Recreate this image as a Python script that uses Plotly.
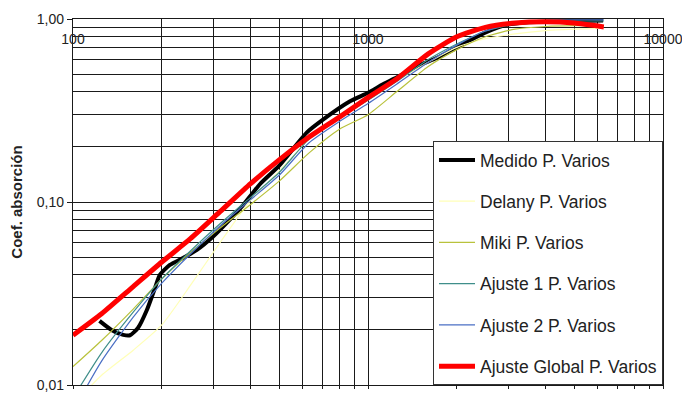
import plotly.graph_objects as go
import numpy as np

# third-octave frequencies for the model curves
freq = [100, 125, 160, 200, 250, 315, 400, 500, 630, 800, 1000, 1250, 1600,
        2000, 2500, 3150, 4000, 5000, 6300]

# measured curve (finer sampling)
freq_med = [123, 135, 148, 156, 166, 178, 190, 197, 213, 236, 263, 298, 340,
            377, 430, 500, 621, 700, 869, 1000, 1124, 1283, 1500, 1700, 1941,
            2200, 2528, 2958, 3500, 4240, 5000, 6266]
medido = [0.0224, 0.0200, 0.0188, 0.0187, 0.0205, 0.0257, 0.0342, 0.040,
          0.0453, 0.0494, 0.0547, 0.0645, 0.080, 0.096, 0.125, 0.158, 0.240,
          0.28, 0.355, 0.395, 0.44, 0.49, 0.56, 0.61, 0.68, 0.76, 0.85, 0.93,
          0.96, 0.97, 0.975, 0.98]

delany = [0.0078, 0.0113, 0.0155, 0.0213, 0.035, 0.060, 0.102, 0.148, 0.22,
          0.30, 0.37, 0.46, 0.58, 0.70, 0.78, 0.83, 0.865, 0.88, 0.89]
miki = [0.0126, 0.0175, 0.026, 0.038, 0.053, 0.072, 0.097, 0.13, 0.185,
        0.25, 0.30, 0.40, 0.55, 0.68, 0.80, 0.88, 0.91, 0.92, 0.92]
ajuste1 = [0.0085, 0.015, 0.025, 0.038, 0.054, 0.076, 0.106, 0.145, 0.22,
           0.29, 0.36, 0.455, 0.60, 0.73, 0.86, 0.94, 0.97, 0.975, 0.975]
ajuste2 = [0.0072, 0.0135, 0.0235, 0.036, 0.052, 0.074, 0.103, 0.14, 0.21,
           0.275, 0.345, 0.44, 0.58, 0.72, 0.86, 0.95, 0.98, 0.99, 0.99]
global_fit = [0.0187, 0.0245, 0.0345, 0.047, 0.063, 0.0885, 0.126, 0.170,
              0.226, 0.291, 0.372, 0.47, 0.645, 0.80, 0.90, 0.95, 0.965,
              0.95, 0.905]

names = ["Medido P. Varios", "Delany P. Varios", "Miki P. Varios",
         "Ajuste 1 P. Varios", "Ajuste 2 P. Varios", "Ajuste Global P. Varios"]

x_major = [100, 1000, 10000]
x_major_text = ["100", "1000", "10000"]
x_minor = [m * d for d in (100, 1000) for m in range(2, 10)]
y_major = [0.01, 0.1, 1.0]
y_major_text = ["0,01", "0,10", "1,00"]
y_minor = [m * d for d in (0.01, 0.1) for m in range(2, 10)]

fig = go.Figure()
series = [
    (freq_med, medido, "#000000", 4),
    (freq, delany, "#FFFFB8", 1.2),
    (freq, miki, "#B9C23C", 1.2),
    (freq, ajuste1, "#3F8E8A", 1.2),
    (freq, ajuste2, "#4A6FC4", 1.2),
    (freq, global_fit, "#FF0000", 5),
]
for i, ((xs, ys, col, w), nm) in enumerate(zip(series, names)):
    fig.add_trace(go.Scatter(x=xs, y=ys, mode="lines", name=nm,
                             legendgroup=nm,
                             line=dict(color=col, width=w, shape="spline",
                                       smoothing=0.6)))

# invisible helper trace so the top label axis is drawn
fig.add_trace(go.Scatter(x=x_major, y=y_major, xaxis="x2", mode="lines",
                         line=dict(width=0), showlegend=False,
                         hoverinfo="skip", opacity=0))

grid_col = "#1a1a1a"
fig.update_layout(
    width=682, height=395,
    margin=dict(l=73, r=19, t=19, b=10),
    paper_bgcolor="white", plot_bgcolor="white",
    font=dict(family="Liberation Sans, Arial, sans-serif", color="black"),
    showlegend=True,
    xaxis=dict(type="log", range=[2, 4], side="bottom", automargin=False,
               tickvals=x_major, ticktext=["", "", ""],
               showgrid=True, gridcolor=grid_col, gridwidth=1.3,
               ticks="outside", ticklen=3, tickcolor=grid_col,
               minor=dict(tickvals=x_minor, showgrid=True, gridcolor=grid_col,
                          gridwidth=1.3, ticks="outside", ticklen=3,
                          tickcolor=grid_col),
               showline=True, linecolor=grid_col, linewidth=1.3,
               mirror=True, zeroline=False),
    xaxis2=dict(type="log", range=[2, 4], overlaying="x", side="top",
                automargin=False,
                tickvals=x_major, ticktext=x_major_text,
                ticklabelposition="inside", ticklabeloverflow="allow",
                ticklabelstandoff=12,
                ticks="", showgrid=False, showline=False, zeroline=False,
                tickfont=dict(size=14, color="#222")),
    yaxis=dict(type="log", range=[-2, 0], automargin=False,
               tickvals=y_major, ticktext=y_major_text,
               tickfont=dict(size=14, color="#222"),
               showgrid=True, gridcolor=grid_col, gridwidth=1.3,
               ticks="outside", ticklen=5, tickcolor=grid_col,
               minor=dict(tickvals=y_minor, showgrid=True, gridcolor=grid_col,
                          gridwidth=1.3, ticks=""),
               showline=True, linecolor=grid_col, linewidth=1.3,
               mirror=True, zeroline=False,
               title=dict(text="<b>Coef. absorción</b>",
                          font=dict(size=15, color="#222"), standoff=10)),
    legend=dict(x=1, xanchor="right", y=0, yanchor="bottom",
                bgcolor="white", bordercolor="#333", borderwidth=1,
                font=dict(size=17.5, color="#222"), tracegroupgap=15.5,
                itemwidth=36),
)

fig.write_html("out.html", config={"displayModeBar": False},
               post_script="document.body.style.margin='0';"
                           "document.body.style.overflow='hidden';")
